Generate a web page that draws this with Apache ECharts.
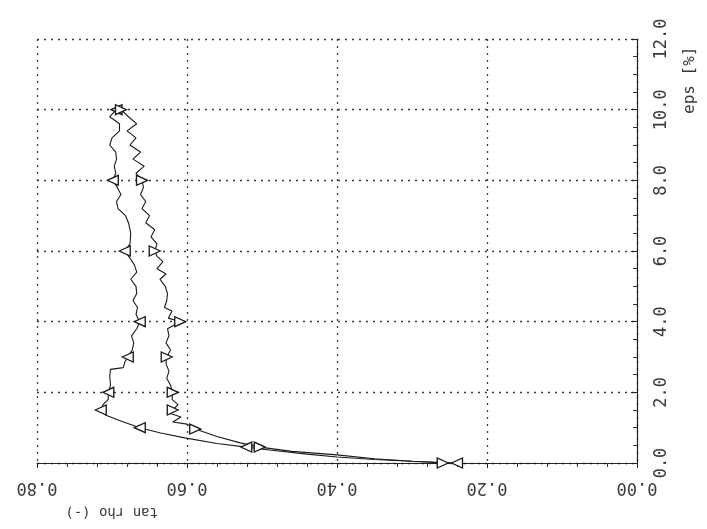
<!DOCTYPE html>
<html><head><meta charset="utf-8">
<script src="https://cdn.jsdelivr.net/npm/echarts@6/dist/echarts.min.js"></script>
<style>html,body{margin:0;padding:0;background:#fff}#c{width:707px;height:529px}</style>
</head><body><div id="c"></div>
<script>
// eps [%] values and tan rho values (series A = left curve, markers ◁; series B = right curve, markers ▷)
const epsA = [0.00,0.05,0.10,0.17,0.25,0.37,0.45,0.55,0.71,0.85,1.00,1.20,1.35,1.50,1.65,1.80,2.00,2.20,2.45,2.65,2.70,2.85,3.00,3.20,3.40,3.60,3.80,4.00,4.20,4.40,4.60,4.80,5.00,5.20,5.40,5.60,5.80,6.00,6.20,6.50,6.80,7.00,7.20,7.40,7.60,7.80,8.00,8.20,8.40,8.60,8.80,9.00,9.20,9.40,9.60,9.80,10.00];
const valA = [0.240,0.300,0.350,0.400,0.440,0.490,0.521,0.560,0.603,0.635,0.663,0.690,0.708,0.715,0.712,0.705,0.705,0.702,0.703,0.702,0.685,0.683,0.679,0.673,0.671,0.674,0.667,0.663,0.668,0.666,0.672,0.667,0.668,0.675,0.667,0.670,0.676,0.683,0.676,0.675,0.678,0.682,0.692,0.694,0.688,0.693,0.699,0.695,0.697,0.694,0.695,0.703,0.700,0.690,0.690,0.703,0.694];
const epsB = [0.00,0.05,0.12,0.23,0.33,0.45,0.57,0.75,0.96,1.10,1.16,1.30,1.40,1.50,1.65,1.80,2.00,2.20,2.40,2.60,2.80,3.00,3.20,3.40,3.60,3.80,4.00,4.10,4.30,4.40,4.60,4.80,5.00,5.20,5.35,5.50,5.70,5.85,6.00,6.20,6.40,6.60,6.80,7.00,7.20,7.40,7.60,7.80,8.00,8.20,8.40,8.60,8.80,9.00,9.20,9.40,9.60,9.80,10.00];
const valB = [0.259,0.300,0.350,0.400,0.460,0.503,0.529,0.560,0.589,0.600,0.619,0.608,0.622,0.619,0.612,0.620,0.619,0.622,0.627,0.624,0.628,0.627,0.622,0.628,0.624,0.626,0.609,0.625,0.620,0.630,0.627,0.626,0.629,0.636,0.628,0.640,0.632,0.640,0.643,0.640,0.648,0.643,0.655,0.650,0.660,0.655,0.662,0.658,0.660,0.668,0.657,0.672,0.662,0.676,0.668,0.680,0.667,0.678,0.688];
const markEpsA = [0.00,0.45,1.00,1.50,2.00,3.00,4.00,6.00,8.00,10.00];
const markEpsB = [0.00,0.45,0.96,1.50,2.00,3.00,4.00,6.00,8.00,10.00];
const tanRhoTicks = [0, 0.2, 0.4, 0.6, 0.8];
const epsTicks = [0, 2, 4, 6, 8, 10, 12];

function build(eps, val, marks, rot) {
  return eps.map((e, i) => {
    const on = marks.indexOf(e) >= 0;
    return on ? {value: [val[i], e], symbol: 'triangle', symbolRotate: rot, symbolSize: [10, 11]}
              : {value: [val[i], e], symbol: 'none'};
  });
}
const font = 'DejaVu Sans Mono';
const grid = {color: '#3a3a3a', width: 1.3, type: [2, 5]};
const chart = echarts.init(document.getElementById('c'));
chart.setOption({
  animation: false,
  backgroundColor: '#fff',
  grid: {left: 37, right: 70, top: 39, bottom: 66, containLabel: false},
  xAxis: {
    type: 'value', min: tanRhoTicks[0], max: tanRhoTicks[tanRhoTicks.length-1], interval: 0.2, inverse: true,
    axisLine: {show: true, onZero: false, lineStyle: {color: '#222', width: 1.2}},
    axisTick: {show: true, length: 5, lineStyle: {color: '#222'}},
    minorTick: {show: true, splitNumber: 5, length: 4, lineStyle: {color: '#333'}},
    splitLine: {show: true, lineStyle: grid},
    axisLabel: {rotate: 180, margin: 16, color: '#3a3a3a', fontFamily: font, fontSize: 17,
      formatter: v => v.toFixed(2)}
  },
  yAxis: {
    type: 'value', position: 'right', min: epsTicks[0], max: epsTicks[epsTicks.length-1], interval: 2,
    axisLine: {show: true, onZero: false, lineStyle: {color: '#222', width: 1.2}},
    axisTick: {show: true, inside: true, length: 6, lineStyle: {color: '#222'}},
    minorTick: {show: true, splitNumber: 4, length: 4, lineStyle: {color: '#333'}},
    splitLine: {show: true, lineStyle: grid},
    axisLabel: {rotate: 90, margin: 16, color: '#3a3a3a', fontFamily: font, fontSize: 17,
      formatter: v => v.toFixed(1)}
  },
  graphic: [
    {type: 'text', x: 682, y: 114, rotation: Math.PI/2, style: {text: 'eps [%]', fill: '#3a3a3a', font: '16px ' + font}},
    {type: 'text', x: 158, y: 519, rotation: Math.PI, style: {text: 'tan rho (-)', fill: '#3a3a3a', font: '14px ' + font}}
  ],
  series: [
    {type: 'line', data: build(epsA, valA, markEpsA, 90), showSymbol: true,
     lineStyle: {color: '#1a1a1a', width: 1.1}, itemStyle: {color: '#fff', borderColor: '#1a1a1a', borderWidth: 1.3}},
    {type: 'line', data: build(epsB, valB, markEpsB, -90), showSymbol: true,
     lineStyle: {color: '#1a1a1a', width: 1.1}, itemStyle: {color: '#fff', borderColor: '#1a1a1a', borderWidth: 1.3}}
  ]
});
</script></body></html>
